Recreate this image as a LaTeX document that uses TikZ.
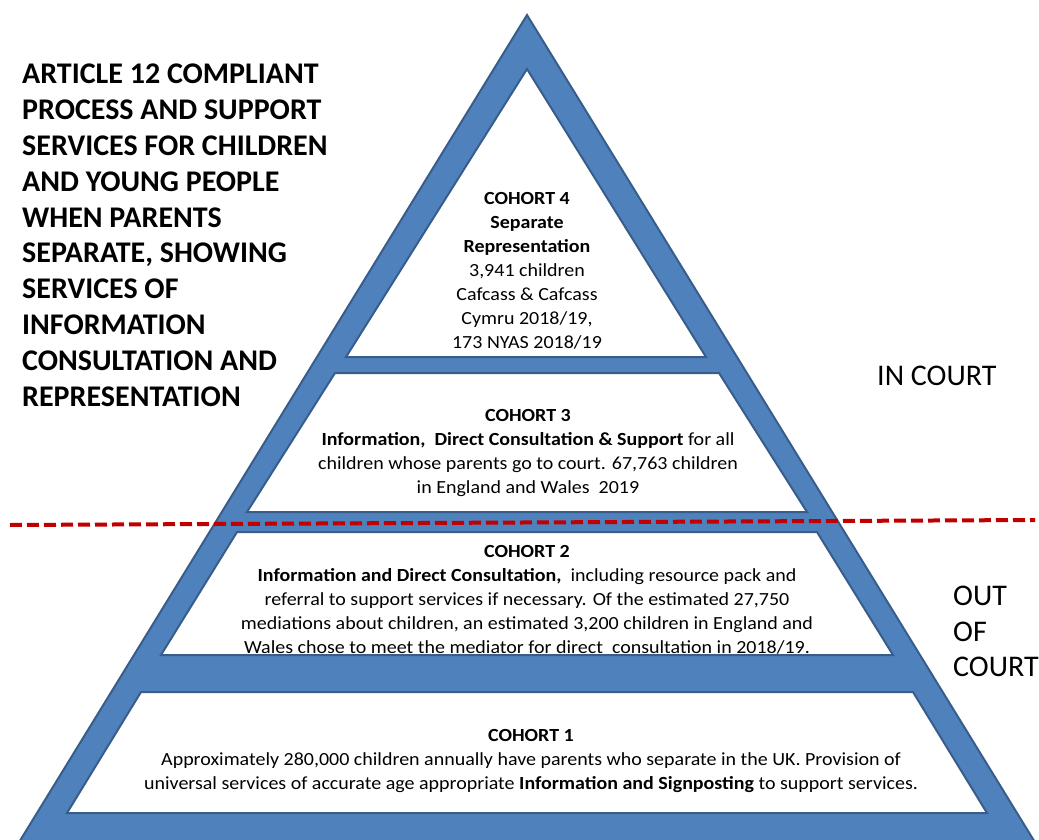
\documentclass[tikz,border=0pt]{standalone}
\usepackage{fontspec}
\setmainfont{Carlito}
\newfontfamily\cohortfont{Carlito}[FakeStretch=1.08]

\definecolor{pyramidblue}{HTML}{4F81BD}
\definecolor{pyramidedge}{HTML}{385D8A}
\definecolor{courtred}{HTML}{C00000}

\tikzstyle{pyramid} = [fill=pyramidblue, draw=pyramidedge, line width=2pt, line join=miter]
\tikzstyle{cohort} = [fill=white, draw=pyramidedge, line width=2pt, line join=miter]
\tikzstyle{cohort text} = [align=center, inner sep=0pt, anchor=north, font=\cohortfont\fontsize{18.5}{24}\selectfont]
\tikzstyle{side text} = [align=left, inner sep=0pt, anchor=north west, font=\fontsize{30}{35.5}\selectfont]
\tikzstyle{courtline} = [draw=courtred, line width=4pt, dash pattern=on 12pt off 5pt]

\begin{document}
\begin{tikzpicture}[x=1pt, y=-1pt]
    %\draw[step=100pt,gray,very thin] (0,0) grid (1039,840);
    \useasboundingbox (0,0) rectangle (1039,840);
    \begin{scope}
        \clip (0,0) rectangle (1039,840);
        \draw [pyramid] (527,15) -- (1052,870) -- (2,870) -- cycle;
    \end{scope}
    \draw [cohort] (527,69) -- (706,357) -- (346,357) -- cycle;
    \draw [cohort] (335,373) -- (719,373) -- (807,512) -- (247,512) -- cycle;
    \draw [cohort] (237,532) -- (817,532) -- (893,655) -- (161,655) -- cycle;
    \draw [cohort] (141,692) -- (913,692) -- (987,813) -- (67,813) -- cycle;

    \node (Title) at (22,64) [side text, font=\fontsize{30}{35.8}\selectfont\bfseries] {ARTICLE 12 COMPLIANT\\ PROCESS AND SUPPORT\\ SERVICES FOR CHILDREN\\ AND YOUNG PEOPLE\\ WHEN PARENTS\\ SEPARATE, SHOWING\\ SERVICES OF\\ INFORMATION\\ CONSULTATION AND\\ REPRESENTATION};

    \node (Cohort 4) at (527,192) [cohort text] {\textbf{COHORT 4}\\ \textbf{Separate}\\ \textbf{Representation}\\ 3,941 children\\ Cafcass \& Cafcass\\ Cymru 2018/19,\\ 173 NYAS 2018/19};
    \node (Cohort 3) at (528,409) [cohort text] {\textbf{COHORT 3}\\ \textbf{Information,~ Direct Consultation \& Support} for all\\ children whose parents go to court. 67,763 children\\ in England and Wales~ 2019};
    \node (Cohort 2) at (527,545) [cohort text] {\textbf{COHORT 2}\\ \textbf{Information and Direct Consultation,}~ including resource pack and\\ referral to support services if necessary. Of the estimated 27,750\\ mediations about children, an estimated 3,200 children in England and\\ Wales chose to meet the mediator for direct~ consultation in 2018/19.};
    \node (Cohort 1) at (531,729) [cohort text] {\textbf{COHORT 1}\\ Approximately 280,000 children annually have parents who separate in the UK. Provision of\\ universal services of accurate age appropriate \textbf{Information and Signposting} to support services.};

    \node (In Court) at (877,366) [side text] {IN COURT};
    \node (Out Of Court) at (953,586) [side text] {OUT\\ OF\\ COURT};

    \coordinate (Split West) at (10,525);
    \coordinate (Split East) at (1035,520);
    \draw [courtline] (Split West) -- (Split East);
\end{tikzpicture}
\end{document}
